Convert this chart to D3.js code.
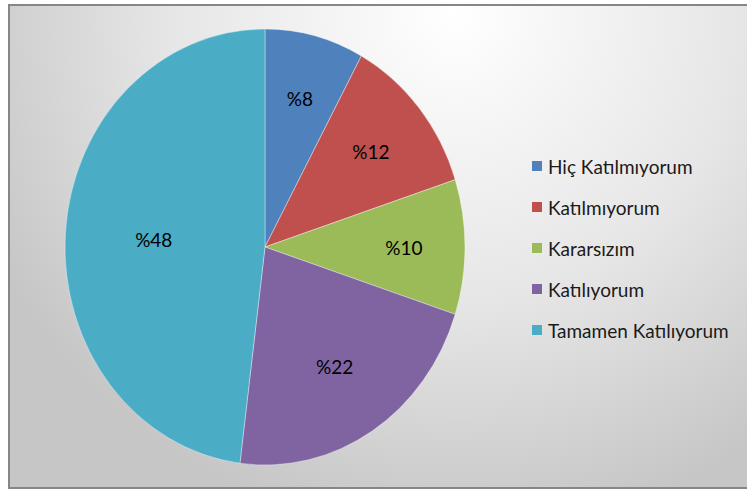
<!DOCTYPE html>
<html>
<head>
<meta charset="utf-8">
<script src="https://cdn.jsdelivr.net/npm/d3@7"></script>
<style>
  body { margin: 0; background: #fff; }
  svg { display: block; font-family: Lato, "Open Sans", sans-serif; }
</style>
</head>
<body>
<div id="chart"></div>
<script>
// answer categories and their shares (%)
var categories = ["Hiç Katılmıyorum", "Katılmıyorum", "Kararsızım", "Katılıyorum", "Tamamen Katılıyorum"]
var values = [8, 12, 10, 22, 48]
var labels = ["%8", "%12", "%10", "%22", "%48"]
var colors = ["#4F81BD", "#C0504D", "#9BBB59", "#8064A2", "#4BACC6"]

var width = 747, height = 490
var cx = 265, cy = 247, radius = 200, yStretch = 1.09

var svg = d3.select("#chart")
  .append("svg")
    .attr("width", width)
    .attr("height", height)

// background gradient like the office chart area
var defs = svg.append("defs")
var grad = defs.append("radialGradient")
    .attr("id", "bg")
    .attr("gradientUnits", "userSpaceOnUse")
    .attr("cx", 455).attr("cy", 15).attr("r", 520)
grad.append("stop").attr("offset", "0").attr("stop-color", "#ffffff")
grad.append("stop").attr("offset", "0.55").attr("stop-color", "#e6e6e6")
grad.append("stop").attr("offset", "1").attr("stop-color", "#c6c6c6")

svg.append("rect")
    .attr("x", 9).attr("y", 5)
    .attr("width", 745).attr("height", 483)
    .attr("fill", "url(#bg)")
    .attr("stroke", "#868686")
    .attr("stroke-width", 2)

var pie = d3.pie().sort(null).value(d => d)
var arcs = pie(values)

var arc = d3.arc().innerRadius(0).outerRadius(radius)

// bigger slices get their label pulled a bit closer to the middle (like excel does)
function labelPos(d) {
  var r = radius * (0.73 - 0.0036 * d.data)
  var a = (d.startAngle + d.endAngle) / 2
  return [cx + r * Math.sin(a), cy - r * Math.cos(a) * yStretch]
}

var g = svg.append("g")
    .attr("transform", "translate(" + cx + "," + cy + ") scale(1," + yStretch + ")")

g.selectAll("path")
  .data(arcs)
  .enter()
  .append("path")
    .attr("d", arc)
    .attr("fill", (d, i) => colors[i])
    .attr("stroke", "#ffffff")
    .attr("stroke-width", 0.6)
    .attr("stroke-opacity", 0.6)

// percentage labels (outside the stretched group so the text isn't squashed)
svg.selectAll("text.pct")
  .data(arcs)
  .enter()
  .append("text")
    .attr("class", "pct")
    .attr("x", d => labelPos(d)[0])
    .attr("y", d => labelPos(d)[1])
    .attr("text-anchor", "middle")
    .attr("dominant-baseline", "central")
    .attr("font-size", 19)
    .attr("fill", "#000")
    .text((d, i) => labels[i])

// legend
var legend = svg.append("g")
    .attr("transform", "translate(532,166)")

var rows = legend.selectAll("g")
  .data(categories)
  .enter()
  .append("g")
    .attr("transform", (d, i) => "translate(0," + (i * 41) + ")")

rows.append("rect")
    .attr("x", 0).attr("y", -5)
    .attr("width", 10).attr("height", 10)
    .attr("fill", (d, i) => colors[i])

rows.append("text")
    .attr("x", 16)
    .attr("y", 0)
    .attr("dominant-baseline", "central")
    .attr("font-size", 19)
    .attr("fill", "#1a1a1a")
    .text(d => d)
</script>
</body>
</html>
